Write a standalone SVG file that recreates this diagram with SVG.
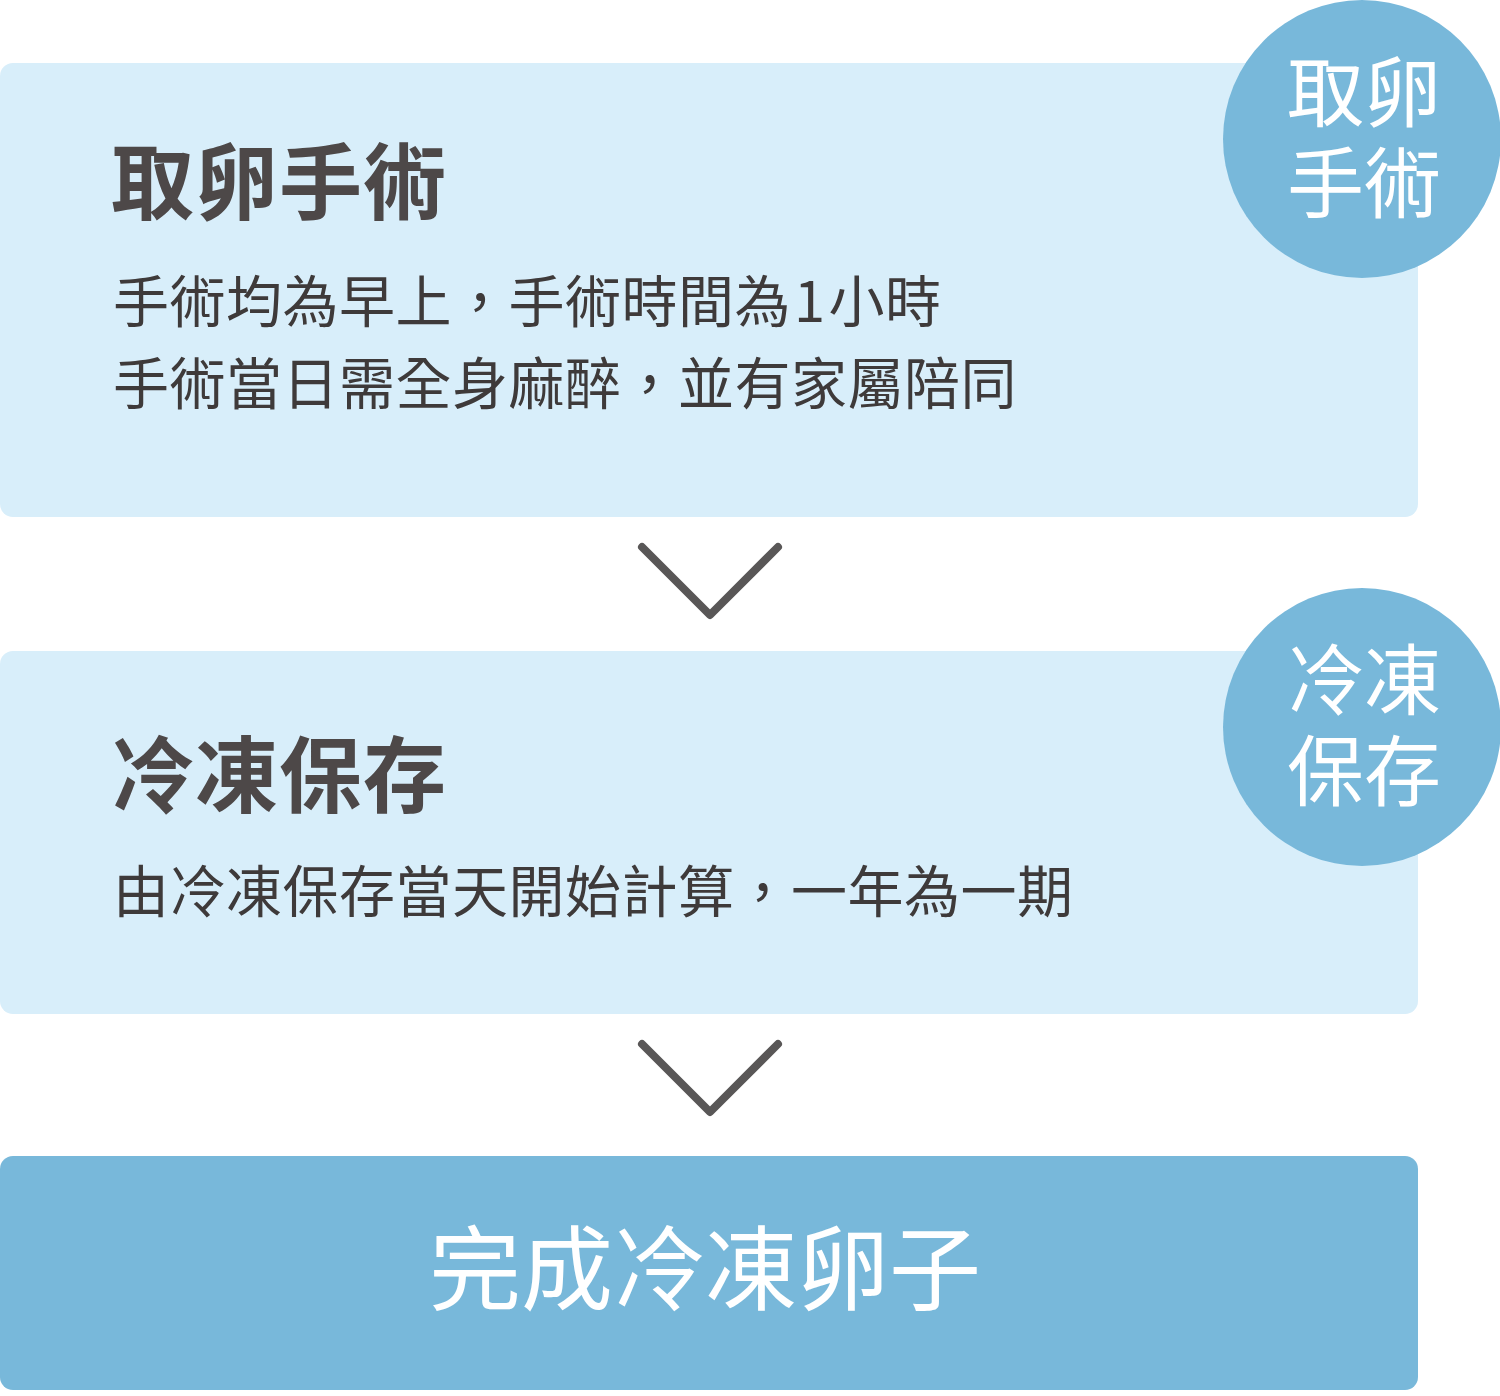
<svg xmlns="http://www.w3.org/2000/svg" width="1500" height="1396" viewBox="0 0 1500 1396">
<style>
.box{fill:#d8eefa}
.dark{fill:#78b8da}
.circ{fill:#78b8da}
.title{font-family:"Noto Sans CJK TC","Noto Sans CJK SC",sans-serif;font-weight:700;font-size:83px;letter-spacing:1px;fill:#4d4848}
.body{font-family:"Noto Sans CJK TC","Noto Sans CJK SC",sans-serif;font-weight:400;font-size:56px;letter-spacing:0.5px;fill:#3e3a3a}
.ctext{font-family:"Noto Sans CJK TC","Noto Sans CJK SC",sans-serif;font-weight:400;font-size:77px;fill:#ffffff;text-anchor:middle}
.final{font-family:"Noto Sans CJK TC","Noto Sans CJK SC",sans-serif;font-weight:400;font-size:92px;fill:#ffffff;text-anchor:middle}
.chev{fill:none;stroke:#595757;stroke-width:8;stroke-linecap:round;stroke-linejoin:round}
</style>
<g id="step1">
<rect class="box" x="0" y="63" width="1418" height="454" rx="13"/>
<text class="title" x="111" y="213">取卵手術</text>
<text class="body" x="113" y="322">手術均為早上，手術時間為<tspan dx="3">1</tspan><tspan dx="3">小時</tspan></text>
<text class="body" x="113" y="404">手術當日需全身麻醉，並有家屬陪同</text>
</g>
<g id="badge1">
<circle class="circ" cx="1362" cy="139" r="139"/>
<text class="ctext"><tspan x="1364" y="121">取卵</tspan><tspan x="1364" y="212">手術</tspan></text>
</g>
<g id="step2">
<rect class="box" x="0" y="651" width="1418" height="363" rx="13"/>
<text class="title" x="111" y="806">冷凍保存</text>
<text class="body" x="113" y="912">由冷凍保存當天開始計算，一年為一期</text>
</g>
<g id="badge2">
<circle class="circ" cx="1362" cy="727" r="139"/>
<text class="ctext"><tspan x="1364" y="709">冷凍</tspan><tspan x="1364" y="800">保存</tspan></text>
</g>
<g id="step3">
<rect class="dark" x="0" y="1156" width="1418" height="234" rx="13"/>
<text class="final" x="705" y="1303">完成冷凍卵子</text>
</g>
<g id="connectors">
<polyline class="chev" points="642,547 710,615 778,547"/>
<polyline class="chev" points="642,1044 710,1112 778,1044"/>
</g>
</svg>
